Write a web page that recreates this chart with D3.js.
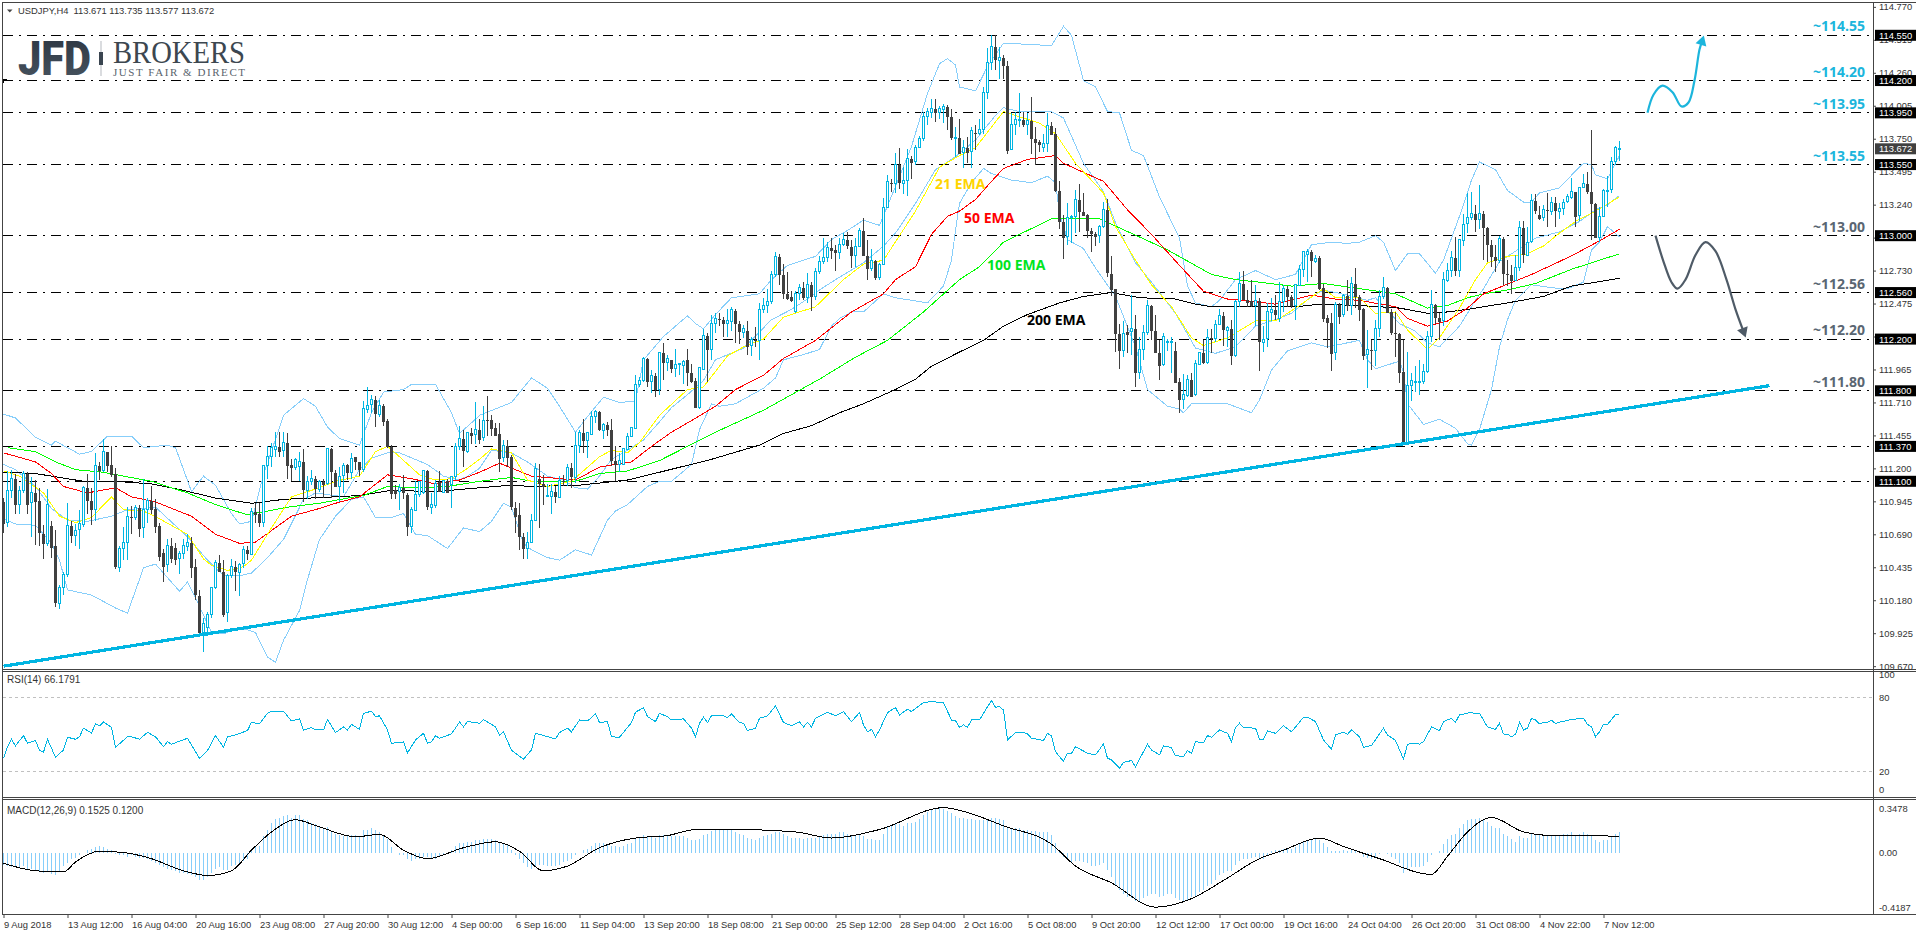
<!DOCTYPE html>
<html>
<head>
<meta charset="utf-8">
<title>USDJPY H4</title>
<script src="https://cdn.jsdelivr.net/npm/d3@7"></script>
<style>
  body { margin: 0; background: #fff; }
  text { font-family: "Liberation Sans", Arial, sans-serif; }
</style>
</head>
<body>
<div id="chart"></div>
<script>
// open, high, low, close of each H4 bar, left to right
const candles = [
[110.94,110.97,110.70,110.77],[110.78,111.18,110.75,111.03],[111.03,111.19,110.97,111.12],[111.12,111.16,110.85,110.92],[110.92,111.06,110.85,111.03],
[111.03,111.18,111.01,111.16],[111.16,111.17,110.85,110.92],[110.93,111.13,110.67,111.01],[111.01,111.11,110.61,110.94],[110.95,111.05,110.60,110.70],
[110.70,110.76,110.50,110.62],[110.62,111.04,110.60,110.92],[110.76,110.79,110.51,110.59],[110.60,110.72,110.13,110.16],[110.16,110.30,110.11,110.28],
[110.28,110.40,110.22,110.38],[110.38,110.93,110.36,110.76],[110.76,110.79,110.62,110.68],[110.68,110.77,110.60,110.72],[110.72,110.88,110.58,110.77],
[110.76,111.06,110.75,111.05],[111.05,111.16,110.85,110.95],[110.95,111.05,110.76,110.88],[110.88,111.32,110.79,111.22],[111.22,111.25,111.11,111.18],
[111.18,111.43,111.17,111.33],[111.33,111.33,111.17,111.22],[111.23,111.37,111.13,111.15],[111.16,111.20,110.42,110.44],[110.43,110.60,110.40,110.58],
[110.58,110.75,110.49,110.63],[110.63,110.90,110.49,110.83],[110.83,110.91,110.69,110.82],[110.82,110.92,110.80,110.90],[110.90,110.92,110.67,110.74],
[110.74,111.12,110.66,110.88],[110.88,110.97,110.78,110.95],[110.95,111.06,110.85,110.88],[110.89,110.96,110.70,110.75],[110.76,110.78,110.48,110.52],
[110.55,110.58,110.32,110.44],[110.45,110.65,110.40,110.60],[110.60,110.66,110.47,110.50],[110.59,110.62,110.45,110.50],[110.50,110.56,110.38,110.54],
[110.54,110.65,110.50,110.60],[110.60,110.69,110.56,110.63],[110.63,110.67,110.35,110.44],[110.44,110.50,110.18,110.22],[110.22,110.26,109.92,109.93],
[109.93,110.04,109.78,110.00],[109.97,110.09,109.90,110.07],[110.07,110.28,110.04,110.28],[110.28,110.49,110.27,110.47],[110.47,110.53,110.40,110.40],
[110.40,110.49,110.05,110.07],[110.08,110.38,110.01,110.37],[110.37,110.50,110.35,110.44],[110.44,110.48,110.25,110.40],[110.40,110.47,110.21,110.46],
[110.46,110.60,110.43,110.57],[110.57,110.60,110.49,110.54],[110.54,110.89,110.53,110.87],[110.87,110.93,110.78,110.85],[110.85,110.93,110.75,110.78],
[110.78,111.22,110.75,111.22],[111.22,111.37,111.12,111.29],[111.29,111.40,111.21,111.36],[111.35,111.48,111.29,111.37],[111.37,111.48,111.29,111.33],
[111.34,111.48,111.29,111.40],[111.40,111.47,111.12,111.22],[111.23,111.27,111.10,111.21],[111.21,111.28,111.19,111.27],[111.21,111.33,111.10,111.25],
[111.25,111.35,110.94,111.03],[111.03,111.14,110.96,111.10],[111.10,111.19,111.07,111.12],[111.12,111.14,110.96,111.04],[111.04,111.11,111.02,111.10],
[111.10,111.12,110.97,111.08],[111.08,111.35,111.07,111.35],[111.35,111.36,110.97,111.17],[111.17,111.19,111.06,111.06],[111.06,111.21,110.94,111.14],
[111.14,111.24,111.01,111.22],[111.23,111.23,111.11,111.17],[111.17,111.32,111.12,111.28],[111.29,111.29,111.19,111.25],[111.25,111.25,111.14,111.19],
[111.19,111.72,111.17,111.66],[111.66,111.83,111.63,111.69],[111.69,111.77,111.63,111.73],[111.73,111.76,111.52,111.62],[111.62,111.73,111.60,111.69],
[111.69,111.70,111.53,111.57],[111.57,111.58,111.36,111.37],[111.37,111.38,110.96,111.01],[111.04,111.07,110.96,111.01],[111.02,111.08,110.88,111.05],
[111.05,111.15,110.96,111.01],[111.00,111.01,110.68,110.75],[110.75,110.90,110.70,110.88],[110.88,111.10,110.87,111.00],[111.00,111.10,110.98,111.10],
[111.01,111.19,111.00,111.18],[111.18,111.19,110.88,110.90],[110.90,111.01,110.85,110.92],[110.91,111.11,110.89,111.08],[111.10,111.18,111.02,111.02],
[111.02,111.11,111.01,111.11],[111.11,111.12,111.02,111.02],[111.08,111.14,110.89,111.14],[111.14,111.40,111.11,111.37],[111.37,111.53,111.34,111.43],
[111.43,111.50,111.21,111.34],[111.33,111.48,111.32,111.48],[111.48,111.51,111.39,111.46],[111.46,111.71,111.39,111.50],[111.50,111.58,111.39,111.42],
[111.44,111.68,111.41,111.57],[111.58,111.76,111.45,111.57],[111.58,111.61,111.45,111.51],[111.52,111.55,111.45,111.46],[111.47,111.55,111.17,111.28],
[111.29,111.42,111.25,111.38],[111.38,111.42,111.21,111.29],[111.29,111.30,110.88,110.90],[110.90,110.94,110.70,110.83],[110.84,110.93,110.57,110.67],
[110.67,110.70,110.50,110.58],[110.58,110.71,110.50,110.63],[110.63,110.85,110.62,110.80],[110.80,111.24,110.79,111.20],[111.12,111.23,110.74,111.08],
[111.08,111.15,110.92,111.06],[110.98,111.08,110.98,110.99],[110.98,111.08,110.85,111.02],[111.02,111.06,110.93,110.98],[110.98,111.14,110.97,111.11],
[111.11,111.15,111.06,111.10],[111.11,111.23,111.06,111.21],[111.21,111.24,111.05,111.14],[111.13,111.48,111.09,111.38],[111.38,111.50,111.32,111.48],
[111.48,111.58,111.32,111.42],[111.42,111.48,111.28,111.48],[111.46,111.64,111.46,111.60],[111.60,111.65,111.55,111.64],[111.64,111.64,111.49,111.50],
[111.49,111.55,111.43,111.54],[111.54,111.56,111.45,111.50],[111.50,111.58,111.22,111.26],[111.26,111.37,111.10,111.23],[111.23,111.32,111.17,111.26],
[111.23,111.36,111.23,111.35],[111.35,111.47,111.34,111.45],[111.45,111.52,111.44,111.52],[111.51,111.92,111.51,111.85],[111.85,111.91,111.83,111.88],
[111.88,112.06,111.87,112.05],[112.05,112.05,111.83,111.87],[111.87,111.96,111.78,111.92],[111.92,111.94,111.75,111.81],[111.81,112.10,111.77,112.10],
[112.10,112.17,111.88,112.02],[112.02,112.08,111.95,112.05],[112.04,112.04,111.94,111.97],[111.97,112.12,111.91,112.00],[112.00,112.01,111.92,112.01],
[112.00,112.04,111.85,112.03],[112.04,112.12,111.84,111.94],[111.94,112.01,111.86,111.87],[111.88,111.90,111.67,111.67],[111.67,111.98,111.66,111.98],
[111.97,112.28,111.96,112.23],[112.23,112.25,111.87,112.12],[112.12,112.39,112.04,112.32],[112.32,112.40,112.25,112.36],[112.36,112.40,112.30,112.35],
[112.35,112.37,112.22,112.32],[112.32,112.43,112.22,112.34],[112.34,112.45,112.26,112.43],[112.42,112.43,112.17,112.32],[112.32,112.34,112.16,112.26],
[112.25,112.31,112.21,112.28],[112.27,112.34,112.08,112.15],[112.15,112.22,112.07,112.20],[112.20,112.29,112.14,112.19],[112.19,112.48,112.04,112.43],
[112.43,112.52,112.40,112.46],[112.46,112.59,112.40,112.49],[112.49,112.73,112.47,112.70],[112.70,112.87,112.68,112.84],[112.84,112.86,112.62,112.70],
[112.70,112.78,112.51,112.55],[112.55,112.72,112.50,112.51],[112.53,112.57,112.49,112.50],[112.41,112.57,112.40,112.55],[112.55,112.63,112.50,112.60],
[112.60,112.64,112.50,112.52],[112.52,112.71,112.48,112.62],[112.62,112.64,112.42,112.53],[112.53,112.75,112.50,112.72],[112.72,112.84,112.70,112.80],
[112.80,112.98,112.78,112.83],[112.83,112.95,112.80,112.91],[112.91,112.98,112.82,112.89],[112.89,112.93,112.73,112.87],[112.87,112.98,112.82,112.93],
[112.93,113.02,112.92,112.97],[112.97,113.03,112.90,112.92],[112.92,112.97,112.75,112.85],[112.85,112.98,112.76,112.92],[112.92,113.06,112.91,113.04],
[113.04,113.14,112.84,112.85],[112.85,112.97,112.66,112.75],[112.75,112.90,112.73,112.81],[112.81,112.81,112.66,112.68],[112.68,112.79,112.66,112.78],
[112.78,113.29,112.77,113.22],[113.22,113.47,113.22,113.42],[113.41,113.44,113.34,113.40],[113.40,113.64,113.33,113.55],[113.55,113.68,113.36,113.41],
[113.41,113.53,113.32,113.43],[113.43,113.67,113.31,113.60],[113.60,113.62,113.44,113.57],[113.57,113.70,113.55,113.68],[113.68,113.77,113.68,113.75],
[113.75,113.96,113.73,113.92],[113.92,113.99,113.86,113.96],[113.95,114.06,113.91,113.98],[113.98,114.06,113.88,113.95],[113.95,114.00,113.90,113.98],
[113.98,114.02,113.87,114.00],[114.00,114.01,113.82,113.92],[113.92,113.98,113.74,113.76],[113.76,113.84,113.61,113.76],[113.76,113.90,113.64,113.64],
[113.64,113.74,113.52,113.68],[113.68,113.76,113.56,113.64],[113.65,113.84,113.52,113.81],[113.80,113.86,113.66,113.79],[113.79,113.90,113.78,113.82],
[113.82,114.15,113.79,114.11],[114.11,114.45,114.06,114.34],[114.34,114.55,114.28,114.46],[114.46,114.55,114.28,114.36],[114.36,114.46,114.21,114.38],
[114.38,114.40,114.21,114.32],[114.32,114.35,113.63,113.66],[113.67,113.95,113.66,113.86],[113.86,113.96,113.78,113.90],[113.89,114.10,113.84,113.90],
[113.90,113.96,113.84,113.86],[113.86,113.95,113.78,113.89],[113.89,114.07,113.63,113.75],[113.75,113.84,113.55,113.72],[113.73,113.74,113.65,113.71],
[113.68,113.79,113.65,113.71],[113.71,113.95,113.65,113.85],[113.85,113.88,113.78,113.78],[113.79,113.83,113.34,113.35],[113.35,113.42,113.05,113.11],
[113.11,113.16,112.82,112.99],[112.99,113.25,112.93,113.14],[113.14,113.16,112.94,113.15],[113.15,113.35,113.02,113.28],[113.28,113.40,113.03,113.19],
[113.19,113.33,113.16,113.16],[113.16,113.17,112.98,113.04],[113.04,113.06,112.87,113.02],[113.02,113.03,112.92,113.00],[113.00,113.08,112.94,113.07],
[113.07,113.26,113.06,113.20],[113.20,113.28,112.68,112.71],[112.71,112.84,112.53,112.59],[112.59,112.59,112.10,112.24],[112.24,112.32,111.97,112.11],
[112.11,112.34,112.06,112.24],[112.26,112.31,112.09,112.24],[112.26,112.54,112.08,112.28],[112.28,112.39,111.83,111.94],[111.94,112.22,111.89,112.12],
[112.12,112.31,112.04,112.25],[112.25,112.50,112.23,112.46],[112.46,112.46,112.19,112.27],[112.27,112.39,112.09,112.10],[112.10,112.19,111.88,112.00],
[112.00,112.25,111.99,112.22],[112.17,112.20,112.11,112.18],[112.18,112.22,111.94,112.18],[112.11,112.18,111.86,111.86],[111.87,111.90,111.63,111.73],
[111.73,111.93,111.66,111.77],[111.77,111.92,111.75,111.89],[111.89,111.94,111.75,111.76],[111.77,112.04,111.76,112.01],[112.01,112.10,112.01,112.10],
[112.10,112.19,112.01,112.02],[112.02,112.28,112.01,112.21],[112.21,112.28,112.09,112.20],[112.20,112.35,112.18,112.31],[112.31,112.43,112.31,112.38],
[112.38,112.41,112.15,112.27],[112.27,112.30,112.14,112.29],[112.28,112.35,112.00,112.07],[112.07,112.50,112.06,112.49],[112.49,112.72,112.45,112.63],
[112.63,112.73,112.50,112.51],[112.51,112.58,112.45,112.49],[112.50,112.66,112.45,112.46],[112.46,112.62,112.30,112.50],[112.50,112.52,111.95,112.18],
[112.18,112.30,112.10,112.20],[112.20,112.48,112.14,112.41],[112.41,112.52,112.34,112.43],[112.43,112.54,112.35,112.39],[112.36,112.64,112.33,112.49],
[112.49,112.62,112.41,112.59],[112.59,112.61,112.45,112.53],[112.53,112.54,112.44,112.46],[112.46,112.62,112.35,112.62],[112.62,112.77,112.61,112.74],
[112.74,112.88,112.68,112.88],[112.86,112.90,112.64,112.88],[112.88,112.89,112.68,112.81],[112.80,112.85,112.79,112.82],[112.83,112.84,112.58,112.59],
[112.60,112.63,112.33,112.36],[112.37,112.39,112.13,112.33],[112.33,112.40,111.95,112.09],[112.10,112.49,112.04,112.47],[112.47,112.48,112.32,112.38],
[112.39,112.55,112.37,112.54],[112.54,112.66,112.42,112.46],[112.46,112.68,112.39,112.63],[112.63,112.75,112.44,112.53],[112.53,112.54,112.34,112.43],
[112.44,112.44,112.04,112.08],[112.08,112.27,111.82,112.12],[112.12,112.19,111.96,112.11],[112.11,112.35,111.99,112.28],[112.28,112.58,112.22,112.53],
[112.53,112.68,112.51,112.60],[112.60,112.60,112.40,112.41],[112.41,112.43,112.23,112.25],[112.25,112.41,112.06,112.24],[112.24,112.25,111.86,111.94],
[111.95,112.19,111.38,111.39],[111.39,112.10,111.38,111.84],[111.84,111.94,111.72,111.88],[111.87,111.99,111.79,111.87],[111.87,112.04,111.77,111.87],
[111.87,112.01,111.85,111.95],[111.95,112.26,111.94,112.22],[112.22,112.58,112.18,112.47],[112.47,112.47,112.32,112.37],[112.37,112.40,112.19,112.34],
[112.34,112.72,112.30,112.66],[112.65,112.79,112.64,112.73],[112.73,112.88,112.68,112.83],[112.83,112.99,112.69,112.73],[112.73,112.97,112.68,112.97],
[112.97,113.17,112.92,113.09],[113.09,113.33,113.02,113.14],[113.14,113.34,113.12,113.17],[113.17,113.24,113.03,113.12],[113.12,113.39,113.05,113.17],
[113.17,113.19,112.81,113.06],[113.06,113.07,112.80,112.93],[112.93,112.97,112.76,112.84],[112.84,112.93,112.72,112.81],[112.81,113.00,112.79,112.98],
[112.98,112.99,112.62,112.71],[112.71,112.81,112.61,112.70],[112.70,112.77,112.55,112.65],[112.65,112.85,112.65,112.75],[112.75,113.11,112.73,113.06],
[113.06,113.11,112.79,112.85],[112.85,113.07,112.84,112.95],[112.95,113.32,112.94,113.27],[113.27,113.32,113.17,113.19],[113.16,113.23,113.12,113.13],
[113.14,113.24,113.11,113.20],[113.20,113.33,113.07,113.19],[113.19,113.30,113.16,113.26],[113.26,113.30,113.07,113.20],[113.19,113.25,113.13,113.21],
[113.21,113.28,113.16,113.26],[113.26,113.32,113.25,113.30],[113.29,113.45,113.28,113.34],[113.34,113.34,113.07,113.15],[113.15,113.38,113.11,113.37],
[113.37,113.48,113.37,113.40],[113.40,113.49,113.32,113.34],[113.34,113.82,112.97,113.25],[113.25,113.25,112.98,112.99],[112.99,113.22,112.95,113.15],
[113.15,113.36,113.15,113.35],[113.35,113.46,113.22,113.35],[113.35,113.61,113.33,113.57],[113.57,113.69,113.55,113.68],[113.671,113.735,113.577,113.672]
];

// indicator readings as [bar, value]
const ema200 = [[0,111.17],[8,111.16],[20,111.10],[28,111.10],[37,111.08],[45,111.03],[53,110.97],[62,110.93],[70,110.96],[83,110.98],[89,110.99],[97,111.03],[108,111.02],[119,111.05],[127,111.07],[132,111.06],[144,111.07],[156,111.11],[164,111.17],[177,111.27],[189,111.38],[195,111.47],[202,111.53],[209,111.63],[215,111.70],[223,111.81],[228,111.89],[232,111.99],[239,112.10],[245,112.19],[250,112.30],[256,112.39],[264,112.48],[270,112.53],[277,112.56],[284,112.52],[293,112.51],[298,112.47],[302,112.45],[310,112.45],[323,112.45],[329,112.47],[339,112.46],[349,112.44],[356,112.40],[361,112.41],[366,112.43],[376,112.48],[385,112.53],[392,112.61],[404,112.67]];
const ema100 = [[1,111.36],[8,111.33],[13,111.25],[18,111.19],[25,111.17],[30,111.14],[37,111.10],[46,111.01],[53,110.92],[61,110.84],[66,110.87],[71,110.90],[79,110.93],[86,110.97],[90,110.99],[96,111.06],[103,111.05],[111,111.06],[119,111.10],[127,111.13],[132,111.10],[143,111.10],[149,111.16],[156,111.18],[164,111.26],[171,111.37],[178,111.48],[190,111.65],[197,111.77],[204,111.89],[213,112.06],[221,112.19],[230,112.41],[239,112.66],[244,112.76],[250,112.95],[256,113.04],[262,113.13],[274,113.13],[284,112.99],[291,112.89],[302,112.70],[308,112.66],[314,112.64],[322,112.61],[330,112.63],[339,112.59],[348,112.55],[356,112.44],[361,112.46],[366,112.52],[370,112.55],[376,112.58],[383,112.63],[392,112.74],[398,112.80],[404,112.86]];
const ema50 = [[0,111.32],[8,111.25],[12,111.16],[15,111.06],[21,111.01],[28,111.05],[32,110.98],[38,110.94],[47,110.83],[53,110.69],[59,110.62],[63,110.63],[72,110.83],[79,110.89],[83,110.93],[89,110.98],[96,111.15],[102,111.12],[108,111.08],[114,111.11],[119,111.17],[124,111.24],[132,111.14],[143,111.11],[149,111.21],[157,111.25],[162,111.37],[167,111.48],[172,111.57],[178,111.68],[183,111.81],[190,111.92],[195,112.05],[203,112.19],[212,112.41],[220,112.55],[223,112.66],[228,112.76],[232,113.01],[236,113.15],[239,113.19],[243,113.28],[247,113.42],[250,113.52],[256,113.59],[263,113.62],[265,113.56],[275,113.42],[281,113.20],[287,113.01],[294,112.77],[300,112.57],[306,112.51],[310,112.50],[318,112.47],[327,112.54],[333,112.51],[339,112.50],[348,112.45],[351,112.36],[356,112.30],[361,112.34],[366,112.44],[370,112.55],[374,112.60],[382,112.70],[389,112.80],[393,112.86],[399,112.96],[404,113.05]];
const ema21 = [[0,111.18],[4,111.14],[10,111.01],[14,110.83],[18,110.78],[22,110.82],[27,110.98],[30,110.88],[35,110.87],[39,110.81],[46,110.69],[50,110.50],[52,110.45],[56,110.41],[60,110.44],[62,110.49],[67,110.74],[72,110.98],[78,111.04],[83,111.10],[89,111.14],[93,111.33],[96,111.37],[99,111.29],[104,111.15],[108,111.11],[112,111.12],[116,111.20],[119,111.27],[122,111.35],[127,111.32],[131,111.11],[136,111.06],[142,111.10],[149,111.29],[152,111.34],[156,111.32],[159,111.40],[164,111.61],[171,111.81],[175,111.83],[181,112.07],[185,112.14],[190,112.20],[195,112.37],[203,112.45],[210,112.66],[215,112.78],[220,112.81],[228,113.19],[234,113.53],[239,113.62],[243,113.68],[247,113.84],[250,113.96],[254,113.92],[259,113.87],[263,113.79],[268,113.56],[275,113.33],[278,113.07],[283,112.81],[287,112.62],[292,112.45],[297,112.21],[300,112.15],[306,112.21],[313,112.34],[318,112.34],[324,112.46],[330,112.59],[333,112.52],[339,112.52],[343,112.40],[348,112.41],[351,112.27],[356,112.12],[359,112.21],[364,112.44],[368,112.66],[371,112.79],[376,112.84],[381,112.86],[385,112.92],[389,113.02],[393,113.11],[398,113.19],[404,113.30]];

const bandUpper = [[0,111.62],[3,111.59],[8,111.44],[12,111.38],[13,111.41],[19,111.31],[22,111.33],[26,111.45],[32,111.45],[35,111.36],[41,111.38],[43,111.36],[47,111.02],[50,111.14],[53,111.07],[57,110.85],[59,110.77],[62,110.79],[65,111.15],[70,111.61],[75,111.74],[78,111.68],[81,111.52],[84,111.43],[89,111.38],[92,111.63],[95,111.79],[100,111.81],[102,111.85],[108,111.85],[112,111.63],[114,111.47],[118,111.58],[119,111.61],[127,111.71],[132,111.90],[136,111.82],[139,111.68],[143,111.48],[147,111.64],[150,111.75],[154,111.71],[158,111.72],[160,112.04],[165,112.22],[171,112.38],[173,112.32],[175,112.28],[178,112.39],[182,112.52],[189,112.55],[192,112.66],[196,112.77],[203,112.84],[207,112.97],[211,113.04],[215,113.12],[219,113.08],[223,113.38],[227,113.69],[231,114.10],[234,114.33],[236,114.37],[238,114.32],[239,114.15],[243,114.12],[246,114.31],[250,114.49],[262,114.47],[265,114.62],[267,114.55],[270,114.20],[273,114.15],[276,113.96],[279,113.95],[282,113.66],[285,113.62],[289,113.30],[294,112.98],[296,112.61],[298,112.48],[302,112.45],[304,112.50],[308,112.66],[313,112.73],[318,112.66],[323,112.70],[327,112.93],[332,112.95],[336,112.94],[339,112.95],[343,113.00],[345,112.95],[348,112.73],[351,112.86],[354,112.86],[358,112.71],[360,112.81],[364,113.15],[367,113.43],[369,113.57],[373,113.51],[376,113.35],[380,113.26],[382,113.26],[384,113.33],[389,113.37],[393,113.50],[395,113.56],[397,113.55],[398,113.47],[401,113.44],[404,113.62]];
const bandMiddle = [[0,111.23],[3,111.19],[8,111.06],[12,110.89],[16,110.80],[21,110.79],[27,110.83],[31,110.88],[38,110.90],[46,110.67],[51,110.49],[55,110.37],[59,110.37],[62,110.39],[66,110.51],[70,110.65],[75,110.96],[78,111.01],[85,110.98],[89,111.19],[92,111.28],[96,111.32],[99,111.32],[106,111.23],[110,111.14],[114,111.11],[116,111.14],[119,111.20],[122,111.34],[127,111.32],[131,111.25],[136,111.14],[140,111.11],[143,111.05],[146,111.04],[149,111.14],[152,111.27],[156,111.34],[160,111.42],[164,111.56],[167,111.67],[171,111.77],[175,111.88],[178,112.04],[185,112.13],[192,112.35],[197,112.43],[200,112.49],[204,112.58],[208,112.66],[215,112.79],[220,112.92],[223,113.02],[228,113.25],[233,113.51],[238,113.61],[243,113.74],[248,113.93],[250,113.99],[254,113.96],[262,113.96],[265,113.91],[270,113.56],[275,113.34],[278,113.10],[283,112.79],[287,112.64],[293,112.40],[298,112.13],[303,112.09],[308,112.14],[313,112.30],[318,112.35],[322,112.40],[327,112.53],[330,112.58],[336,112.54],[341,112.50],[343,112.52],[349,112.32],[353,112.26],[356,112.17],[359,112.14],[364,112.30],[368,112.50],[370,112.59],[374,112.80],[378,112.88],[383,112.98],[389,113.03],[394,113.11],[398,113.20],[401,113.24],[404,113.31]];
const bandLower = [[0,110.81],[3,110.77],[8,110.76],[12,110.62],[14,110.49],[16,110.26],[22,110.22],[28,110.12],[31,110.08],[35,110.43],[38,110.46],[44,110.25],[46,110.32],[48,110.20],[52,109.93],[55,109.92],[59,109.97],[63,109.93],[66,109.74],[68,109.70],[70,109.87],[74,110.10],[76,110.34],[79,110.65],[83,110.83],[87,110.96],[90,110.98],[93,110.82],[97,110.82],[100,110.85],[103,110.69],[106,110.68],[111,110.58],[115,110.74],[119,110.71],[122,110.79],[125,110.93],[127,110.90],[130,110.62],[132,110.57],[136,110.51],[139,110.49],[143,110.57],[147,110.53],[151,110.80],[153,110.87],[156,110.92],[161,111.06],[164,111.10],[167,111.10],[172,111.23],[174,111.50],[177,111.70],[179,111.68],[183,111.70],[190,111.82],[193,111.90],[195,112.04],[200,112.08],[204,112.12],[207,112.30],[209,112.36],[212,112.41],[215,112.41],[220,112.55],[223,112.52],[231,112.48],[235,112.61],[237,112.81],[238,113.04],[239,113.25],[242,113.41],[245,113.52],[247,113.48],[252,113.43],[257,113.41],[261,113.46],[263,113.41],[264,113.17],[266,112.97],[270,112.90],[273,112.75],[278,112.53],[283,112.14],[286,111.81],[291,111.68],[294,111.66],[295,111.63],[297,111.70],[306,111.70],[312,111.63],[314,111.73],[317,111.96],[321,112.11],[327,112.17],[331,112.14],[339,112.19],[341,112.04],[343,111.97],[349,112.03],[350,111.94],[351,111.70],[355,111.54],[359,111.58],[363,111.51],[366,111.39],[367,111.38],[369,111.50],[372,111.81],[374,112.14],[376,112.35],[378,112.50],[382,112.62],[389,112.59],[391,112.59],[395,112.64],[397,112.89],[399,112.95],[401,113.07],[404,112.99]];

const rsi = [[0,30.6],[1,40],[2,46],[3,40.6],[5,49],[6,42.7],[8,45],[9,37],[10,35.5],[11,46],[13,31.4],[15,37.3],[16,47.6],[18,46],[19,48],[20,55],[22,51],[23,58.4],[24,56.8],[25,60],[27,55.7],[28,39.5],[31,48],[32,48],[34,46],[36,51.6],[38,48],[40,40],[41,44],[42,42],[46,46.8],[49,30.6],[51,36.8],[53,49],[55,39.5],[56,48],[58,49.5],[61,53],[62,59.8],[64,58.4],[66,67],[67,68.7],[70,68.7],[72,60.8],[74,62.5],[75,53.5],[77,55.4],[78,53.5],[80,53.5],[81,62],[83,51.4],[85,56],[86,53.5],[87,58],[89,54],[90,67],[92,68.7],[93,64.3],[94,65],[96,53.5],[97,42.7],[100,43.8],[101,35],[103,45.4],[105,50.8],[106,42.7],[107,44],[108,48.7],[109,46.8],[112,50.3],[114,60],[115,56],[116,60.3],[119,59],[120,62],[123,56],[124,49.5],[125,52],[127,37],[130,29.8],[132,37.3],[133,50.8],[138,46.3],[139,51.4],[141,55],[142,52],[144,61.6],[146,60.8],[148,66.5],[149,59.5],[151,60.3],[152,48],[154,47.6],[157,59.5],[158,67.9],[160,71.6],[161,64.3],[163,60.3],[164,67],[166,64.3],[167,61.6],[170,62.5],[172,55],[173,48],[174,59],[175,63.8],[176,59.5],[177,65],[180,65],[181,63.5],[182,66.5],[184,59.5],[185,59],[186,53],[188,55],[189,63],[191,65],[193,73],[195,59.5],[197,57],[199,60],[200,56],[201,59.5],[202,56],[203,63],[206,67.9],[208,65],[210,68.4],[212,60.3],[214,67.6],[215,57.6],[216,52],[217,54],[218,48],[219,53.5],[221,67.6],[222,69.7],[223,71.6],[224,65.7],[226,70.3],[227,68.4],[230,75.7],[232,76.5],[235,75.7],[237,61.6],[238,61],[239,55.7],[240,57.6],[241,55.7],[242,61.6],[244,61.6],[246,72.4],[247,77.3],[248,71.9],[249,72.4],[250,69.7],[251,45.4],[253,51.4],[255,51.4],[256,50.3],[257,46.8],[260,45],[261,50.8],[262,48.7],[263,36],[265,28],[266,34.6],[267,34.6],[268,40],[271,34.6],[273,33.3],[275,42.2],[276,30.6],[277,29.3],[279,22.5],[280,27.3],[282,28.7],[283,23.8],[286,42],[287,37.3],[289,33.3],[290,40.6],[292,39.2],[293,32.7],[295,32],[296,36.8],[297,34.6],[298,44],[300,43.3],[301,49],[302,47.6],[304,53.5],[306,50.8],[307,44],[308,55.4],[309,59],[310,55.4],[313,55],[314,46],[315,46],[316,52.7],[318,50.8],[320,57],[322,52],[325,63.8],[326,63.8],[328,60.3],[330,45.4],[332,37.9],[333,49.5],[335,51.6],[336,50],[337,53.5],[339,48],[340,39.5],[342,40.9],[345,55],[346,49.5],[348,45],[350,29.8],[351,42],[353,42.7],[354,42],[355,44],[357,56],[359,53],[360,60.3],[362,63],[363,59.8],[364,65.7],[367,67.9],[368,66.5],[369,67],[371,56],[373,54],[374,59],[375,50.3],[376,50],[377,48],[378,50],[379,59.8],[380,53.5],[381,55],[382,63],[383,61.6],[384,58.4],[385,59.8],[386,59.8],[387,61.4],[388,58.7],[389,59.8],[392,62],[395,63],[396,58],[397,56],[398,48],[399,52],[400,58],[401,58],[402,62],[403,66],[404,66.18]];

const macdHist = [
-.09,-.10,-.11,-.11,-.11,-.10,-.12,-.12,-.13,-.14,-.15,-.14,-.16,-.17,-.14,-.10,-.08,-.05,-.04,-.02,
.00,.02,.03,.04,.05,.04,.03,.02,-.01,-.02,-.02,-.03,-.02,-.03,-.04,-.04,-.05,-.06,-.08,-.09,
-.11,-.12,-.13,-.14,-.15,-.15,-.16,-.17,-.18,-.20,-.20,-.18,-.15,-.12,-.11,-.13,-.13,-.10,-.09,-.08,
-.06,-.05,.02,.05,.05,.12,.17,.22,.25,.26,.27,.28,.26,.28,.28,.25,.24,.22,.21,.20,
.18,.19,.16,.14,.13,.12,.13,.13,.13,.12,.17,.17,.18,.17,.15,.13,.10,.04,.00,-.02,
-.02,-.05,-.06,-.05,-.05,-.03,-.03,-.04,-.05,-.03,-.02,.00,.02,.05,.07,.07,.08,.08,.09,.09,
.10,.10,.10,.09,.07,.06,.06,.02,-.02,-.05,-.08,-.11,-.12,-.11,-.09,-.09,-.10,-.10,-.10,-.09,
-.07,-.06,-.05,-.02,.00,.02,.03,.05,.07,.07,.07,.06,.05,.05,.04,.05,.06,.07,.11,.11,
.13,.12,.12,.11,.13,.13,.13,.12,.12,.12,.12,.11,.09,.09,.10,.13,.14,.16,.17,.17,
.17,.17,.17,.15,.14,.13,.11,.10,.09,.11,.12,.13,.14,.15,.15,.14,.12,.11,.11,.11,
.10,.11,.11,.11,.12,.13,.14,.14,.14,.15,.15,.14,.13,.13,.14,.12,.10,.10,.09,.09,
.14,.19,.20,.22,.21,.20,.22,.22,.23,.25,.28,.30,.32,.33,.33,.32,.31,.29,.27,.26,
.26,.25,.25,.24,.24,.24,.25,.26,.26,.25,.24,.19,.18,.18,.18,.17,.17,.16,.16,.15,
.15,.15,.13,.07,.01,-.03,-.05,-.07,-.06,-.06,-.07,-.08,-.10,-.10,-.09,-.08,-.13,-.18,-.25,-.28,
-.31,-.33,-.34,-.36,-.37,-.34,-.32,-.31,-.31,-.33,-.32,-.31,-.31,-.34,-.35,-.36,-.35,-.33,-.32,-.29,
-.28,-.25,-.23,-.20,-.17,-.15,-.14,-.14,-.09,-.06,-.05,-.05,-.04,-.03,-.04,-.05,-.02,.01,.02,.02,
.03,.03,.03,.04,.06,.08,.09,.10,.10,.09,.07,.04,.01,.01,.01,.02,.01,.02,.01,.00,
-.03,-.04,-.05,-.03,-.01,.00,-.01,-.03,-.05,-.08,-.15,-.12,-.11,-.11,-.11,-.10,-.07,-.02,.00,.01,
.06,.10,.13,.14,.18,.21,.24,.25,.25,.26,.25,.23,.20,.18,.18,.14,.12,.10,.08,.12,
.11,.11,.14,.14,.13,.13,.13,.13,.13,.13,.14,.14,.15,.13,.14,.15,.14,.13,.09,.08,
.09,.09,.12,.14,.1525
];
const macdSignal = [[0,-.08],[8,-.135],[15,-.144],[18,-.07],[24,.01],[30,.00],[36,-.036],[45,-.135],[51,-.17],[57,-.135],[62,.018],[67,.153],[73,.243],[79,.19],[88,.117],[94,.135],[100,.018],[106,-.045],[115,.036],[123,.08],[129,.01],[135,-.135],[141,-.10],[149,.036],[158,.108],[166,.126],[173,.171],[183,.171],[198,.153],[207,.108],[219,.171],[235,.333],[241,.297],[250,.198],[262,.063],[268,-.10],[277,-.225],[288,-.405],[297,-.342],[305,-.207],[314,-.045],[320,.018],[329,.108],[335,.045],[344,-.045],[357,-.162],[361,-.027],[366,.153],[372,.26],[380,.153],[387,.126],[396,.126],[404,.12]];

const levels = [114.55, 114.20, 113.95, 113.55, 113.00, 112.56, 112.20, 111.80, 111.37, 111.10];
const levelLabels = [
  { level: 114.55, text: "~114.55", color: "#1cb5dc" },
  { level: 114.20, text: "~114.20", color: "#1cb5dc" },
  { level: 113.95, text: "~113.95", color: "#1cb5dc" },
  { level: 113.55, text: "~113.55", color: "#1cb5dc" },
  { level: 113.00, text: "~113.00", color: "#5a6672" },
  { level: 112.56, text: "~112.56", color: "#5a6672" },
  { level: 112.20, text: "~112.20", color: "#5a6672" },
  { level: 111.80, text: "~111.80", color: "#5a6672" }
];
const priceTicks = [114.77,114.515,114.26,114.005,113.75,113.495,113.24,112.985,112.73,112.475,112.22,111.965,111.71,111.455,111.2,110.945,110.69,110.435,110.18,109.925,109.67];
const rsiTicks = [100, 80, 20, 0];
const rsiLevels = [80, 20];
const macdTicks = [0.3478, 0, -0.4187];
const timeLabels = ["9 Aug 2018","13 Aug 12:00","16 Aug 04:00","20 Aug 16:00","23 Aug 08:00","27 Aug 20:00","30 Aug 12:00","4 Sep 00:00","6 Sep 16:00","11 Sep 04:00","13 Sep 20:00","18 Sep 08:00","21 Sep 00:00","25 Sep 12:00","28 Sep 04:00","2 Oct 16:00","5 Oct 08:00","9 Oct 20:00","12 Oct 12:00","17 Oct 00:00","19 Oct 16:00","24 Oct 04:00","26 Oct 20:00","31 Oct 08:00","4 Nov 22:00","7 Nov 12:00"];
const trendLine = [[0,109.67],[441.5,111.84]];
const upPath = [[411,113.95],[412.5,114.09],[414.75,114.16],[417.25,114.11],[419.5,114.00],[421.25,114.03],[422.75,114.20],[424,114.44],[424.6,114.50]];
const downPath = [[413,113.0],[415,112.80],[417,112.64],[418.5,112.59],[420.5,112.66],[423,112.85],[425.5,112.95],[428,112.88],[430.75,112.66],[433,112.43],[435,112.26]];
const emaLabels = [
  { text: "21 EMA", color: "#ffd500", x: 935, y: 189 },
  { text: "50 EMA", color: "#ff0000", x: 964, y: 223 },
  { text: "100 EMA", color: "#00e51f", x: 987, y: 270 },
  { text: "200 EMA", color: "#000000", x: 1027, y: 325 }
];

const W = 1916, H = 936;
const axisX = 1873;
const upColor = "#00b5e2", downColor = "#404040", bandColor = "#87cefa";

const svg = d3.select("#chart").append("svg")
  .attr("width", W).attr("height", H)
  .style("display", "block");

// scales
const x = d3.scaleLinear().domain([0, 404]).range([3.5, 1619.5]);
const y = d3.scaleLinear().domain([114.55, 111.10]).range([35.3, 481.3]);
const yRsi = d3.scaleLinear().domain([80, 20]).range([697.3, 771.3]);
const yMacd = d3.scaleLinear().domain([0.3478, -0.4187]).range([805.7, 909]);

const snap = v => Math.floor(v) + 0.5;

// pane frames
const frame = svg.append("g").attr("stroke", "#444").attr("shape-rendering", "crispEdges");
frame.append("line").attr("x1", 2.5).attr("x2", 2.5).attr("y1", 2).attr("y2", 914);
frame.append("line").attr("x1", axisX + .5).attr("x2", axisX + .5).attr("y1", 2).attr("y2", 914);
[2.5, 669.5, 671.5, 797.5, 799.5, 914.5].forEach(v => {
  frame.append("line").attr("x1", 2).attr("x2", W).attr("y1", v).attr("y2", v);
});

// logo sits under the level lines
const logo = svg.append("g");
const grad = svg.append("defs").append("linearGradient")
  .attr("id", "jfd").attr("x1", 0).attr("x2", 0).attr("y1", 0).attr("y2", 1);
grad.append("stop").attr("offset", "0%").attr("stop-color", "#2a3440");
grad.append("stop").attr("offset", "100%").attr("stop-color", "#4a5662");
logo.append("text").attr("x", 18).attr("y", 75).text("JFD")
  .style("font-family", "Roboto").attr("font-weight", 900).attr("font-size", 48)
  .attr("textLength", 73).attr("lengthAdjust", "spacingAndGlyphs")
  .attr("fill", "url(#jfd)");
logo.append("rect").attr("x", 100.5).attr("y", 41).attr("width", 1).attr("height", 35).attr("fill", "#b5babf");
logo.append("rect").attr("x", 99).attr("y", 52).attr("width", 4).attr("height", 13).attr("fill", "#3a4550");
logo.append("text").attr("x", 113).attr("y", 63).text("BROKERS")
  .style("font-family", "'Liberation Serif'").attr("font-size", 32)
  .attr("textLength", 132).attr("lengthAdjust", "spacingAndGlyphs")
  .attr("fill", "#3c4750");
logo.append("text").attr("x", 113).attr("y", 76).text("JUST FAIR & DIRECT")
  .style("font-family", "'Liberation Serif'").attr("font-size", 11)
  .attr("textLength", 132).attr("fill", "#5a646d");

// horizontal levels
svg.append("g").selectAll("line").data(levels).enter().append("line")
  .attr("x1", 3).attr("x2", axisX)
  .attr("y1", d => snap(y(d))).attr("y2", d => snap(y(d)))
  .attr("stroke", "#000")
  .attr("stroke-dasharray", "10 6 2 6")
  .attr("shape-rendering", "crispEdges");

// little corner mark of the hidden object at the left edge
svg.append("path").attr("d", "M3.5,83V79.5H7").attr("fill", "none").attr("stroke", "#000").attr("shape-rendering", "crispEdges");

const line = d3.line().x(d => x(d[0])).y(d => y(d[1]));

// bollinger bands and EMAs
const mainLines = [
  { data: bandUpper, color: bandColor },
  { data: bandMiddle, color: bandColor },
  { data: bandLower, color: bandColor },
  { data: ema200, color: "#000000" },
  { data: ema100, color: "#00ff00" },
  { data: ema50, color: "#ff0000" },
  { data: ema21, color: "#ffff00" }
];
svg.append("g").selectAll("path").data(mainLines).enter().append("path")
  .attr("d", d => line(d.data))
  .attr("fill", "none")
  .attr("stroke", d => d.color)
  .attr("stroke-width", 1)
  .attr("shape-rendering", "crispEdges");

// candles
const candle = svg.append("g").attr("shape-rendering", "crispEdges")
  .selectAll("g").data(candles).enter().append("g");
candle.append("line")
  .attr("x1", (d, i) => x(i)).attr("x2", (d, i) => x(i))
  .attr("y1", d => y(d[1])).attr("y2", d => y(d[2]))
  .attr("stroke", d => d[3] >= d[0] ? upColor : downColor);
candle.append("rect")
  .attr("x", (d, i) => d[3] >= d[0] ? x(i) - 1 : x(i) - 1.5)
  .attr("width", d => d[3] >= d[0] ? 2 : 3)
  .attr("y", d => snap(y(Math.max(d[0], d[3]))))
  .attr("height", d => Math.max(1, Math.round(Math.abs(y(d[0]) - y(d[3])))))
  .attr("fill", d => d[3] >= d[0] ? "#fff" : downColor)
  .attr("stroke", d => d[3] >= d[0] ? upColor : "none");

// support trend line
svg.append("path").attr("d", line(trendLine))
  .attr("fill", "none").attr("stroke", upColor).attr("stroke-width", 3.2)
  .attr("shape-rendering", "crispEdges");

// scenario curves with arrow heads
const curve = d3.line().x(d => x(d[0])).y(d => y(d[1])).curve(d3.curveCatmullRom);
[{ data: upPath, color: "#1cb5dc" }, { data: downPath, color: "#4f5b67" }].forEach(s => {
  svg.append("path").attr("d", curve(s.data))
    .attr("fill", "none").attr("stroke", s.color).attr("stroke-width", 2.2);
  const a = s.data[s.data.length - 2], b = s.data[s.data.length - 1];
  const angle = Math.atan2(y(b[1]) - y(a[1]), x(b[0]) - x(a[0])) * 180 / Math.PI + 90;
  svg.append("path").attr("d", d3.symbol(d3.symbolTriangle, 55)())
    .attr("transform", `translate(${x(b[0])},${y(b[1])}) rotate(${angle})`)
    .attr("fill", s.color);
});

// level captions
svg.append("g").selectAll("text").data(levelLabels).enter().append("text")
  .attr("x", 1865).attr("y", d => y(d.level) - 4)
  .attr("text-anchor", "end")
  .style("font-family", "'Open Sans'").attr("font-weight", 700).attr("font-size", 14)
  .attr("fill", d => d.color)
  .text(d => d.text);

svg.append("g").selectAll("text").data(emaLabels).enter().append("text")
  .attr("x", d => d.x).attr("y", d => d.y)
  .style("font-family", "'Open Sans'").attr("font-weight", 700).attr("font-size", 14)
  .attr("fill", d => d.color)
  .text(d => d.text);

// title row
svg.append("path").attr("d", "M7,9.5H12.5L9.75,12.5Z").attr("fill", "#444");
svg.append("text").attr("x", 18).attr("y", 14).attr("font-size", 9.4).attr("fill", "#333")
  .style("white-space", "pre")
  .text("USDJPY,H4  113.671 113.735 113.577 113.672");

// price axis
const fontSize = 9.4;
const priceAxis = svg.append("g").attr("transform", `translate(${axisX},0)`)
  .call(d3.axisRight(y).tickValues(priceTicks).tickSize(3).tickPadding(3).tickFormat(d3.format(".3f")));
priceAxis.select(".domain").remove();
priceAxis.selectAll("line").attr("stroke", "#444");
priceAxis.selectAll("text").attr("font-size", fontSize).attr("fill", "#333").style("font-family", "'Liberation Sans'");

// black price boxes on the axis
const boxes = levels.map(v => ({ value: v, fill: "#000" })).concat([{ value: 113.672, fill: "#404040" }]);
const box = svg.append("g").selectAll("g").data(boxes).enter().append("g")
  .attr("transform", d => `translate(1875,${y(d.value)})`);
box.append("rect").attr("x", 0).attr("y", -5.5).attr("width", 41).attr("height", 11).attr("fill", d => d.fill);
box.append("text").attr("x", 4).attr("y", 3.5).attr("font-size", fontSize).attr("fill", "#fff")
  .text(d => d.value.toFixed(3));

// RSI pane
svg.append("text").attr("x", 7).attr("y", 683).attr("font-size", 10).attr("fill", "#333").text("RSI(14) 66.1791");
svg.append("g").selectAll("line").data(rsiLevels).enter().append("line")
  .attr("x1", 3).attr("x2", axisX)
  .attr("y1", d => snap(yRsi(d))).attr("y2", d => snap(yRsi(d)))
  .attr("stroke", "#c0c0c0").attr("stroke-dasharray", "3 3").attr("shape-rendering", "crispEdges");
svg.append("path")
  .attr("d", d3.line().x(d => x(d[0])).y(d => yRsi(d[1]))(rsi))
  .attr("fill", "none").attr("stroke", upColor).attr("stroke-width", 1)
  .attr("shape-rendering", "crispEdges");
svg.append("g").selectAll("text").data(rsiTicks).enter().append("text")
  .attr("x", 1879).attr("y", d => Math.min(793, Math.max(678, yRsi(d) + 3.5)))
  .attr("font-size", fontSize).attr("fill", "#333").text(d => d);

// MACD pane
svg.append("text").attr("x", 7).attr("y", 814).attr("font-size", 10).attr("fill", "#333").text("MACD(12,26,9) 0.1525 0.1200");
svg.append("g").attr("shape-rendering", "crispEdges").selectAll("line").data(macdHist).enter().append("line")
  .attr("x1", (d, i) => x(i)).attr("x2", (d, i) => x(i))
  .attr("y1", yMacd(0)).attr("y2", d => yMacd(d))
  .attr("stroke", bandColor);
svg.append("path")
  .attr("d", d3.line().x(d => x(d[0])).y(d => yMacd(d[1])).curve(d3.curveMonotoneX)(macdSignal))
  .attr("fill", "none").attr("stroke", "#000").attr("stroke-width", 1)
  .attr("shape-rendering", "crispEdges");
svg.append("g").selectAll("text").data(macdTicks).enter().append("text")
  .attr("x", 1879).attr("y", d => Math.min(911, Math.max(812, yMacd(d) + 3.5)))
  .attr("font-size", fontSize).attr("fill", "#333")
  .text(d => d === 0 ? "0.00" : d);

// time axis, a label every 16 bars
const timeAxis = svg.append("g").attr("transform", "translate(0,914)")
  .call(d3.axisBottom(x).tickValues(timeLabels.map((d, i) => i * 16)).tickSize(4).tickPadding(3)
    .tickFormat((d, i) => timeLabels[i]));
timeAxis.select(".domain").remove();
timeAxis.selectAll("line").attr("stroke", "#444");
timeAxis.selectAll("text").attr("text-anchor", "start").attr("font-size", fontSize).attr("fill", "#333")
  .style("font-family", "'Liberation Sans'");
</script>
</body>
</html>
